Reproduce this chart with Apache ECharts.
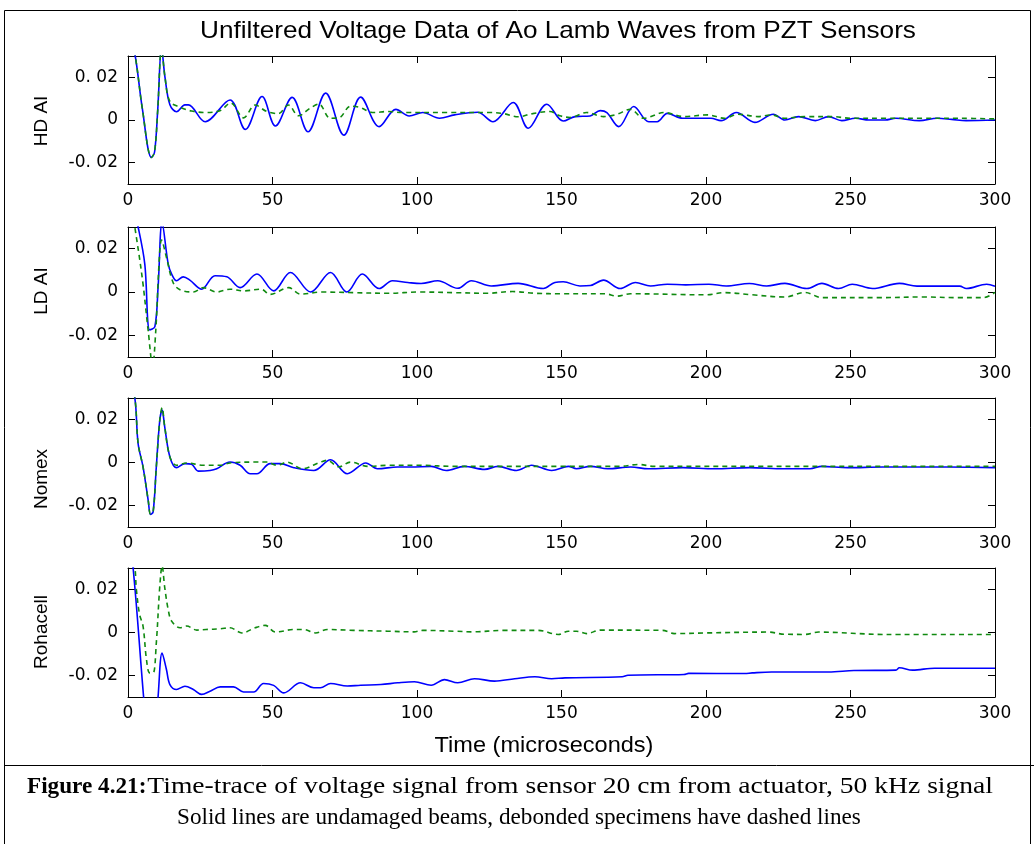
<!DOCTYPE html>
<html><head><meta charset="utf-8">
<script src="https://cdn.jsdelivr.net/npm/echarts@6/dist/echarts.min.js"></script>
<style>html,body{margin:0;padding:0;background:#fff}#c{width:1034px;height:844px}</style>
</head><body><div id="c"></div><script>
const chartTitle = 'Unfiltered Voltage Data of Ao Lamb Waves from PZT Sensors';
const xAxisTitle = 'Time (microseconds)';
const panelNames = ['HD AI', 'LD AI', 'Nomex', 'Rohacell'];
const xTicks = [0, 50, 100, 150, 200, 250, 300];
const yTicks = [-0.02, 0, 0.02];
const captionBold = 'Figure 4.21:';
const captionLine1 = 'Time-trace of voltage signal from sensor 20 cm from actuator, 50 kHz signal';
const captionLine2 = 'Solid lines are undamaged beams, debonded specimens have dashed lines';

// HD AI
const hdSolid = [[0,0.045],[2.5,0.03],[5,0.005],[8.1,-0.0176],[9.2,-0.015],[10.3,0.005],[11.6,0.034],[12.8,0.02],[14.5,0.0071],[16.8,0.0039],[19.7,0.0071],[20.9,0.0071],[26.7,-0.0008],[35.3,0.0094],[40.6,-0.0044],[46.4,0.011],[51,-0.0028],[56.8,0.0106],[62.3,-0.0055],[68.4,0.0126],[74.7,-0.0071],[80.5,0.0107],[86.9,-0.0031],[92.7,0.005],[97.3,0.0019],[102,0.0035],[107.8,0.0008],[113,0.0024],[121,0.0036],[126.3,-0.0008],[133.3,0.0082],[138.5,-0.0039],[144.9,0.0074],[150.6,-0.0005],[154.7,0.0016],[159.9,0.0019],[163.4,0.0044],[165.7,0.0035],[169.8,-0.0031],[175,0.0063],[180.2,-0.0008],[183.1,-0.0008],[186.6,0.0031],[191.9,0.0008],[201.7,0.0008],[205.2,-0.0003],[210.5,0.0035],[216.9,-0.0011],[223.3,0.0027],[227.3,0],[232,0.0016],[237.8,-0.0003],[242.4,0.0016],[247,-0.0003],[251.7,0.0008],[256.4,0],[262,0],[265.7,0.0008],[273.8,-0.0003],[280,0.0008],[285,0.0003],[290,-0.0003],[300,0]];
const hdDashed = [[0,0.045],[2.5,0.03],[5,0.005],[8.1,-0.0175],[9.2,-0.015],[10.3,0.005],[11.6,0.034],[12.8,0.02],[14.5,0.0087],[18,0.006],[22,0.0042],[27,0.0035],[32,0.0045],[35.5,0.008],[40,0.001],[44,0.007],[48,0.004],[52,0.003],[55.5,0.007],[59,0.002],[63,0.0055],[66,0.0075],[70,0.0008],[73,0.001],[77,0.0065],[80,0.006],[85,0.0035],[90,0.004],[95,0.0035],[110,0.0035],[125,0.0035],[130,0.003],[135,0.0015],[140,0.003],[146,0.004],[149.4,0.002],[153,0.0012],[158.7,0.0035],[164.5,0.0016],[169.2,0.0027],[173.8,0.005],[178.5,0.0008],[185.5,0.0035],[192.4,0.0016],[200.6,0.0024],[206.4,0.0008],[211,0.0027],[218,0.0016],[222.7,0.0024],[227,0.0008],[234,0.0016],[244,0.0016],[250,0.0008],[262,0.0008],[275,0.0008],[288,0.0008],[300,0.0005]];
// LD AI
const ldSolid = [[0,0.05],[3.5,0.03],[5.8,0.013],[7.5,-0.0175],[9.3,-0.016],[10.4,0.002],[11.8,0.032],[13.9,0.013],[15.1,0.0083],[16.8,0.0052],[19.1,0.007],[21.4,0.0055],[25.5,0.0013],[30.1,0.0075],[34.2,0.007],[38.8,0.002],[44.6,0.0083],[50.4,0.0005],[56.2,0.009],[63.2,0],[70.1,0.009],[75.7,0],[81.1,0.0083],[86.9,0.0016],[91.5,0.0052],[96.8,0.0044],[101.4,0.0039],[107.2,0.0052],[114.1,0.0017],[118.8,0.0052],[125.7,0.0028],[135,0.004],[143.7,0.0016],[147.7,0.0044],[150.6,0.0047],[156.4,0.0028],[160,0.003],[164.5,0.0055],[170.3,0.0016],[175.6,0.0044],[180.8,0.0028],[186.6,0.0036],[193,0.0033],[201,0.0036],[207,0.0028],[215,0.0039],[221,0.0028],[227.3,0.004],[234.9,0.0016],[240.1,0.004],[245.9,0.0016],[250.6,0.0036],[257.6,0.0016],[266.9,0.004],[273,0.0027],[287.8,0.0027],[290.1,0.0016],[297.1,0.0036],[300,0.0027]];
const ldDashed = [[0,0.05],[3.5,0.02],[5.2,0.0036],[7,-0.018],[8.5,-0.034],[9.6,-0.018],[10.8,0.0145],[11.6,0.024],[13.3,0.016],[15.6,0.0044],[18,0.001],[22.6,0],[26.1,0.002],[30.7,0],[35.3,0.0013],[40,0.0005],[46,0.0013],[49.2,-0.0011],[55.6,0.002],[59.7,-0.001],[67,0],[78,-0.0003],[89.8,-0.0006],[101,0],[113,-0.0003],[124,-0.0006],[133,0.0002],[141,-0.0006],[150,-0.0008],[165,-0.0008],[169.2,-0.0019],[173.8,-0.0008],[200,-0.0013],[206.4,-0.0003],[216,-0.0013],[227.3,-0.0023],[234.3,-0.0002],[240.1,-0.0026],[260,-0.0026],[275,-0.0023],[287,-0.0026],[296,-0.0026],[300,-0.0002]];
// Nomex
const nxSolid = [[0,0.04],[2.3,0.0306],[3.5,0.0088],[5.2,-0.002],[7,-0.0177],[7.8,-0.0242],[8.7,-0.023],[9.8,-0.002],[11,0.0197],[11.8,0.0244],[12.7,0.0166],[14.5,0.0026],[16.8,-0.0024],[19.7,-0.0005],[22,-0.0008],[24.3,-0.004],[28.4,-0.0037],[30.7,-0.0029],[35.3,0.0002],[38.8,-0.0013],[42.3,-0.0052],[44.6,-0.0052],[49.2,-0.0005],[52.7,-0.0005],[57.4,-0.0024],[64.3,-0.0037],[70.1,0.0013],[75.9,-0.0052],[82.3,-0.0002],[86.3,-0.0029],[93.3,-0.0021],[97.9,-0.0021],[104.9,-0.0018],[110.1,-0.0037],[116.4,-0.0018],[123.4,-0.0032],[128,-0.0018],[134.4,-0.0037],[139.6,-0.0013],[146.6,-0.0037],[152.4,-0.0018],[155.2,-0.0029],[160,-0.0018],[166,-0.0029],[174,-0.0021],[180,-0.0029],[192,-0.0024],[203,-0.0029],[215,-0.0024],[227,-0.0029],[236,-0.0029],[240,-0.0018],[249,-0.0024],[261,-0.0021],[272,-0.0021],[284,-0.0021],[300,-0.0024]];
const nxDashed = [[0,0.04],[2.3,0.0306],[3.5,0.0088],[5.2,-0.002],[7,-0.0177],[7.8,-0.024],[8.7,-0.023],[9.8,-0.002],[11,0.0197],[11.8,0.0255],[12.7,0.0166],[14.5,0.0026],[16.8,-0.0013],[20.3,-0.0002],[26,-0.0013],[31.9,-0.0013],[35.3,-0.0002],[43.5,0.0002],[48,0.0002],[51.6,-0.0013],[55,0.0002],[60.3,-0.0029],[66.6,0.0002],[68.9,0.001],[73,-0.002],[77,0.0002],[83,-0.0018],[90,-0.0013],[101,-0.0013],[113,-0.0018],[130,-0.0018],[150,-0.0018],[170,-0.0018],[176.6,-0.0009],[182,-0.0018],[220,-0.0018],[260,-0.0018],[300,-0.0018]];
// Rohacell
const rhSolid = [[0,0.045],[1.7,0.031],[5.4,-0.03],[6.5,-0.045],[9.5,-0.045],[10.4,-0.03],[11.8,-0.0095],[13.3,-0.0172],[14.5,-0.0242],[16.8,-0.0265],[19.7,-0.025],[22.6,-0.0265],[25.5,-0.0288],[28.4,-0.0273],[31.9,-0.0253],[36.5,-0.0253],[40,-0.0277],[43.5,-0.0277],[46.9,-0.0237],[50.4,-0.0246],[53.9,-0.0281],[59.7,-0.0234],[64.3,-0.0257],[66.6,-0.0257],[70.1,-0.0237],[75.9,-0.0249],[80.5,-0.0245],[87.5,-0.0242],[93.3,-0.0234],[99.1,-0.0229],[104.9,-0.0245],[109.5,-0.0219],[114.1,-0.0234],[119.9,-0.0215],[126.8,-0.0226],[133.8,-0.0215],[140.8,-0.0206],[146.6,-0.0215],[151.2,-0.0211],[171,-0.0206],[173,-0.0199],[192.4,-0.0195],[194,-0.019],[213.4,-0.0191],[216,-0.0188],[222.7,-0.0184],[242.4,-0.0184],[251.2,-0.0177],[265.7,-0.0175],[266.9,-0.0164],[271.5,-0.0175],[279.1,-0.0166],[300,-0.0166]];
const rhDashed = [[0,0.045],[2.3,0.031],[2.9,0.02],[4,0.0084],[5.2,0.003],[6.4,-0.0126],[7.5,-0.0188],[8.7,-0.0188],[9.8,-0.0048],[11,0.0215],[11.8,0.031],[12.7,0.021],[13.9,0.0107],[15.1,0.0053],[18,0.0022],[20.3,0.003],[23.8,0.0011],[27,0.0014],[31.9,0.0017],[35.3,0.0022],[39.4,-0.0002],[44,0.0022],[47.5,0.0033],[51,0.0002],[57.4,0.0014],[60.8,0.0014],[64.9,-0.0002],[69,0.0014],[78,0.001],[89.8,0.0006],[99,0.0003],[102,0.001],[113,0.0006],[119,0.0003],[130,0.001],[142,0.001],[148.9,-0.0009],[152.4,0.0006],[155.2,0.0006],[158.7,-0.0005],[163.4,0.0011],[185,0.001],[189,-0.0005],[200,-0.0002],[221.5,0.0002],[227,-0.0008],[234.3,-0.0009],[239,0.0002],[262,-0.0009],[300,-0.0009]];

const panelSeries = [[hdSolid, hdDashed], [ldSolid, ldDashed], [nxSolid, nxDashed], [rhSolid, rhDashed]];

const layout = [{top: 56, height: 128, nameY: 121}, {top: 227, height: 130, nameY: 291}, {top: 398, height: 129, nameY: 479}, {top: 568, height: 129, nameY: 632}];
const plotLeft = 128, plotRight = 39;
const tickFont = {fontFamily: 'DejaVu Sans', fontSize: 17, color: '#000'};
const axisLine = {show: true, onZero: false, lineStyle: {color: '#000', width: 1}};

const grid = [], xAxis = [], yAxis = [], series = [], graphic = [];
layout.forEach((g, i) => {
  grid.push({left: plotLeft, right: plotRight, top: g.top, height: g.height, show: true, backgroundColor: '#fff', borderWidth: 0});
  const xBase = {type: 'value', gridIndex: i, min: xTicks[0], max: xTicks[xTicks.length - 1], interval: xTicks[1] - xTicks[0],
    axisLine: axisLine, splitLine: {show: false},
    axisTick: {show: true, inside: true, length: 7, lineStyle: {color: '#000'}}};
  xAxis.push(Object.assign({}, xBase, {position: 'bottom', axisLabel: Object.assign({show: true, margin: 8, showMinLabel: true, showMaxLabel: true}, tickFont)}));
  xAxis.push(Object.assign({}, xBase, {position: 'top', axisLabel: {show: false}}));
  const yBase = {type: 'value', gridIndex: i, min: -0.03, max: 0.03,
    axisLine: axisLine, splitLine: {show: false},
    axisTick: {show: true, inside: true, length: 7, customValues: yTicks, lineStyle: {color: '#000'}}};
  yAxis.push(Object.assign({}, yBase, {position: 'left', axisLabel: Object.assign({show: true, margin: 10, customValues: yTicks,
    formatter: v => (Math.abs(v) < 1e-9 ? '0' : v.toFixed(2).replace('.', '.\u00A0'))}, tickFont)}));
  yAxis.push(Object.assign({}, yBase, {position: 'right', axisLabel: {show: false}}));
  const [solid, dashed] = panelSeries[i];
  series.push({type: 'line', xAxisIndex: 2 * i, yAxisIndex: 2 * i, data: solid, showSymbol: false, smooth: 0.35, clip: true,
    lineStyle: {color: '#0000ff', width: 1.6}});
  series.push({type: 'line', xAxisIndex: 2 * i, yAxisIndex: 2 * i, data: dashed, showSymbol: false, smooth: 0.35, clip: true,
    lineStyle: {color: '#108a10', width: 1.6, type: [5, 4]}});
  graphic.push({type: 'text', x: 42, y: g.nameY, rotation: Math.PI / 2,
    style: {text: panelNames[i], fontFamily: 'Liberation Sans', fontSize: 19, fill: '#000', align: 'center', verticalAlign: 'middle'}});
});

graphic.push({type: 'rect', shape: {x: 4.5, y: 10.5, width: 1026, height: 850}, style: {fill: 'none', stroke: '#000', lineWidth: 1}, z: 100});
graphic.push({type: 'line', shape: {x1: 4, y1: 765.5, x2: 1034, y2: 765.5}, style: {stroke: '#000', lineWidth: 1}, z: 100});
graphic.push({type: 'text', x: 558, y: 31, scaleX: 1.09, style: {text: chartTitle, fontFamily: 'Liberation Sans', fontSize: 24, fill: '#000', align: 'center', verticalAlign: 'middle'}});
graphic.push({type: 'text', x: 544, y: 746, scaleX: 1.07, style: {text: xAxisTitle, fontFamily: 'Liberation Sans', fontSize: 22, fill: '#000', align: 'center', verticalAlign: 'middle'}});

// Caption: the first line is stretched to fill its margins, as in the source document
const capSize = 23.2;
const measure = (txt, weight) => {
  const ctx = document.createElement('canvas').getContext('2d');
  ctx.font = (weight || 'normal') + ' ' + capSize + 'px "Liberation Serif"';
  return ctx.measureText(txt).width;
};
const capLeft = 27, capRight = 993, capY1 = 787, capY2 = 818;
graphic.push({type: 'text', x: capLeft, y: capY1, style: {text: captionBold, fontFamily: 'Liberation Serif', fontSize: capSize, fontWeight: 'bold', fill: '#000', align: 'left', verticalAlign: 'middle'}});
const startX = capLeft + measure(captionBold, 'bold') + 1;
const stretch = (capRight - startX) / measure(captionLine1);
graphic.push({type: 'text', x: startX, y: capY1, scaleX: stretch, style: {text: captionLine1, fontFamily: 'Liberation Serif', fontSize: capSize, fill: '#000', align: 'left', verticalAlign: 'middle'}});
graphic.push({type: 'text', x: 177, y: capY2, style: {text: captionLine2, fontFamily: 'Liberation Serif', fontSize: capSize, fill: '#000', align: 'left', verticalAlign: 'middle'}});

const chart = echarts.init(document.getElementById('c'), null, {renderer: 'canvas'});
chart.setOption({animation: false, backgroundColor: '#fff', grid, xAxis, yAxis, series, graphic});
</script></body></html>
